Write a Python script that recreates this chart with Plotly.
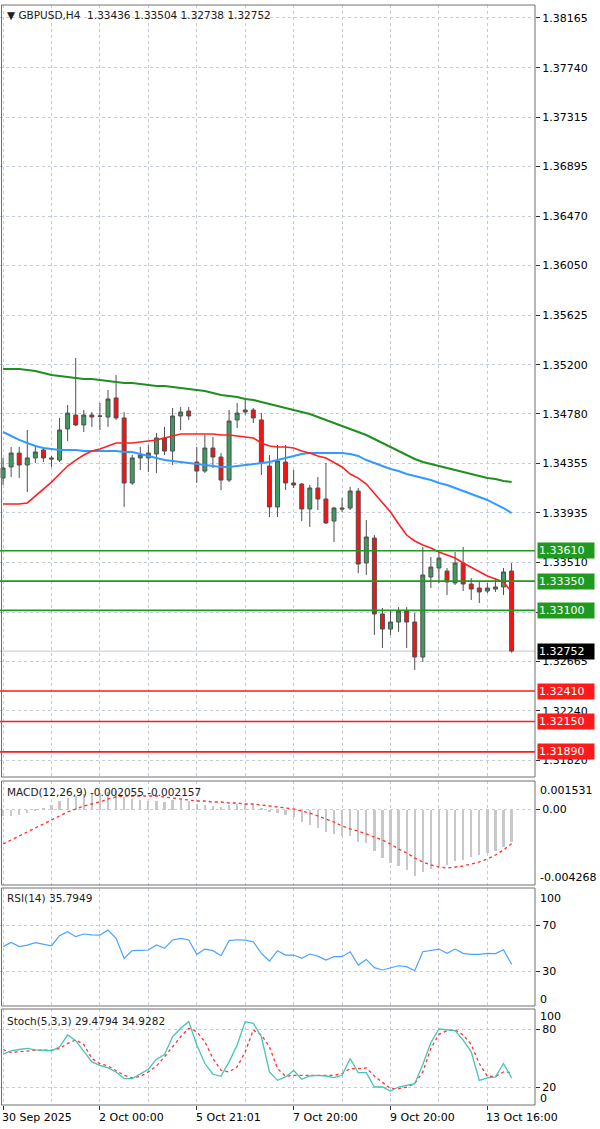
import plotly.graph_objects as go

# ---------------- data ----------------
open_ = [1.34231, 1.34326, 1.34445, 1.34343, 1.34403, 1.34471, 1.34403, 1.34385, 1.34651, 1.34770,
         1.34685, 1.34770, 1.34762, 1.34753, 1.34916, 1.34745, 1.34189, 1.34403, 1.34403, 1.34437,
         1.34574, 1.34462, 1.34762, 1.34804, 1.34368, 1.34291, 1.34488, 1.34411, 1.34214, 1.34728,
         1.34796, 1.34813, 1.34728, 1.34334, 1.33984, 1.34368, 1.34189, 1.34180, 1.33967, 1.34146,
         1.34052, 1.33864, 1.33975, 1.33975, 1.34120, 1.33505, 1.33718, 1.33069, 1.32940, 1.33000,
         1.33094, 1.33000, 1.32701, 1.33385, 1.33462, 1.33436, 1.33334, 1.33505, 1.33325, 1.33291,
         1.33265, 1.33282, 1.33300, 1.33436]
high = [1.34403, 1.34497, 1.34497, 1.34642, 1.34514, 1.34497, 1.34420, 1.34745, 1.34856, 1.35258,
        1.34813, 1.34796, 1.34873, 1.34984, 1.35112, 1.34796, 1.34428, 1.34497, 1.34514, 1.34616,
        1.34668, 1.34830, 1.34839, 1.34839, 1.34497, 1.34599, 1.34582, 1.34445, 1.34813, 1.34873,
        1.34899, 1.34830, 1.34787, 1.34428, 1.34514, 1.34514, 1.34300, 1.34189, 1.34172, 1.34240,
        1.34360, 1.33984, 1.34061, 1.34155, 1.34146, 1.33872, 1.33744, 1.33120, 1.33103, 1.33128,
        1.33128, 1.33077, 1.33642, 1.33556, 1.33599, 1.33462, 1.33599, 1.33642, 1.33376, 1.33342,
        1.33334, 1.33376, 1.33462, 1.33504]
low = [1.34172, 1.34240, 1.34231, 1.34112, 1.34360, 1.34368, 1.34326, 1.34368, 1.34548, 1.34676,
       1.34625, 1.34668, 1.34642, 1.34668, 1.34728, 1.33984, 1.34172, 1.34300, 1.34283, 1.34274,
       1.34428, 1.34343, 1.34642, 1.34728, 1.34189, 1.34274, 1.34317, 1.34129, 1.34197, 1.34659,
       1.34770, 1.34702, 1.34257, 1.33898, 1.33898, 1.34129, 1.34146, 1.33864, 1.33813, 1.33958,
       1.33838, 1.33684, 1.33941, 1.33958, 1.33419, 1.33402, 1.32889, 1.32778, 1.32889, 1.32915,
       1.32778, 1.32590, 1.32658, 1.33291, 1.33334, 1.33231, 1.33317, 1.33265, 1.33188, 1.33163,
       1.33248, 1.33257, 1.33231, 1.32738]
close = [1.34317, 1.34445, 1.34343, 1.34403, 1.34454, 1.34403, 1.34394, 1.34642, 1.34787, 1.34685,
         1.34770, 1.34753, 1.34760, 1.34907, 1.34745, 1.34189, 1.34403, 1.34428, 1.34445, 1.34574,
         1.34462, 1.34762, 1.34796, 1.34762, 1.34291, 1.34488, 1.34411, 1.34214, 1.34719, 1.34787,
         1.34813, 1.34745, 1.34360, 1.33984, 1.34377, 1.34189, 1.34172, 1.33967, 1.34146, 1.34052,
         1.33847, 1.33975, 1.33967, 1.34120, 1.33496, 1.33727, 1.33069, 1.32940, 1.33000, 1.33094,
         1.33000, 1.32701, 1.33402, 1.33470, 1.33547, 1.33342, 1.33505, 1.33325, 1.33282, 1.33257,
         1.33291, 1.33300, 1.33428, 1.32752]

ma_fast = [1.34009, 1.34009, 1.34009, 1.34018, 1.34078, 1.34137, 1.34197, 1.34266, 1.34334, 1.34385,
           1.34428, 1.34462, 1.34480, 1.34505, 1.34531, 1.34531, 1.34531, 1.34539, 1.34548, 1.34557,
           1.34574, 1.34591, 1.34608, 1.34608, 1.34608, 1.34608, 1.34608, 1.34599, 1.34599, 1.34591,
           1.34582, 1.34574, 1.34531, 1.34505, 1.34497, 1.34497, 1.34488, 1.34462, 1.34445, 1.34420,
           1.34403, 1.34368, 1.34326, 1.34266, 1.34231, 1.34180, 1.34103, 1.34026, 1.33941, 1.33838,
           1.33744, 1.33693, 1.33659, 1.33633, 1.33599, 1.33573, 1.33547, 1.33505, 1.33470, 1.33436,
           1.33394, 1.33368, 1.33342, 1.33257]
ma_mid = [1.34625, 1.34591, 1.34557, 1.34531, 1.34505, 1.34488, 1.34480, 1.34471, 1.34471, 1.34471,
          1.34462, 1.34462, 1.34462, 1.34462, 1.34462, 1.34454, 1.34454, 1.34437, 1.34420, 1.34403,
          1.34385, 1.34377, 1.34368, 1.34360, 1.34351, 1.34343, 1.34334, 1.34326, 1.34326, 1.34334,
          1.34343, 1.34351, 1.34360, 1.34368, 1.34385, 1.34403, 1.34420, 1.34437, 1.34445, 1.34445,
          1.34445, 1.34445, 1.34445, 1.34437, 1.34420, 1.34385, 1.34360, 1.34334, 1.34309, 1.34291,
          1.34266, 1.34249, 1.34231, 1.34214, 1.34189, 1.34172, 1.34146, 1.34120, 1.34095, 1.34069,
          1.34044, 1.34009, 1.33975, 1.33932]
ma_slow = [1.35164, 1.35164, 1.35164, 1.35155, 1.35147, 1.35130, 1.35113, 1.35104, 1.35096, 1.35087,
           1.35078, 1.35078, 1.35070, 1.35061, 1.35053, 1.35044, 1.35044, 1.35036, 1.35027, 1.35018,
           1.35018, 1.35010, 1.35001, 1.34993, 1.34984, 1.34976, 1.34959, 1.34942, 1.34933, 1.34924,
           1.34907, 1.34899, 1.34882, 1.34864, 1.34847, 1.34830, 1.34813, 1.34796, 1.34779, 1.34753,
           1.34728, 1.34702, 1.34676, 1.34651, 1.34625, 1.34599, 1.34565, 1.34531, 1.34497, 1.34462,
           1.34428, 1.34394, 1.34368, 1.34351, 1.34334, 1.34317, 1.34300, 1.34283, 1.34266, 1.34249,
           1.34231, 1.34223, 1.34206, 1.34197]

macd_main = [-0.000411, -0.000411, -0.000348, -0.000221, -0.000095, 0.000095, 0.000285, 0.000537, 0.000727, 0.000854,
             0.000950, 0.001000, 0.001050, 0.001100, 0.001150, 0.000790, 0.000664, 0.000601, 0.000537, 0.000537,
             0.000474, 0.000601, 0.000601, 0.000537, 0.000348, 0.000285, 0.000221, 0.000158, 0.000285, 0.000348,
             0.000348, 0.000285, 0.000095, -0.000158, -0.000221, -0.000348, -0.000474, -0.000790, -0.000980, -0.001170,
             -0.001423, -0.001549, -0.001676, -0.001676, -0.002055, -0.002118, -0.002624, -0.003067, -0.003383, -0.003572,
             -0.003825, -0.004205, -0.003952, -0.003762, -0.003572, -0.003509, -0.003256, -0.003193, -0.003003, -0.002877,
             -0.002751, -0.002624, -0.002371, -0.002055]
macd_signal = [-0.002181, -0.001929, -0.001676, -0.001423, -0.001170, -0.000917, -0.000664, -0.000411, -0.000158, 0.000032,
               0.000221, 0.000348, 0.000474, 0.000664, 0.000790, 0.000854, 0.000854, 0.000854, 0.000854, 0.000854,
               0.000790, 0.000727, 0.000664, 0.000601, 0.000537, 0.000537, 0.000474, 0.000474, 0.000411, 0.000411,
               0.000348, 0.000348, 0.000285, 0.000221, 0.000158, 0.000095, 0.000032, -0.000095, -0.000221, -0.000411,
               -0.000601, -0.000790, -0.001043, -0.001233, -0.001359, -0.001549, -0.001739, -0.001929, -0.002181, -0.002498,
               -0.002751, -0.003067, -0.003320, -0.003509, -0.003636, -0.003699, -0.003636, -0.003572, -0.003446, -0.003320,
               -0.003130, -0.002877, -0.002560, -0.002157]

rsi = [51.2, 54.9, 51.2, 52.5, 54.6, 53.2, 52.0, 60.7, 64.2, 59.9,
       62.2, 61.5, 61.3, 65.7, 58.4, 41.0, 47.7, 48.0, 48.3, 52.6,
       49.7, 57.0, 58.4, 57.0, 44.5, 49.1, 47.7, 43.3, 56.4, 57.2,
       56.8, 55.5, 45.4, 38.7, 47.7, 43.9, 43.9, 41.0, 44.8, 43.0,
       39.6, 42.5, 42.5, 46.8, 35.2, 40.1, 32.9, 30.9, 32.9, 34.6,
       33.8, 30.3, 46.8, 47.7, 49.1, 45.4, 49.1, 45.4, 44.5, 44.5,
       45.4, 45.2, 48.5, 35.79]

stoch_k = [54.0, 57.5, 58.8, 59.9, 58.5, 57.8, 57.5, 61.6, 73.8, 67.9,
           57.5, 46.0, 42.5, 39.8, 35.6, 28.7, 28.7, 33.9, 38.4, 48.8,
           53.6, 72.0, 80.7, 87.6, 63.4, 44.3, 33.2, 31.1, 46.0, 63.4,
           87.6, 85.9, 72.0, 35.6, 26.9, 30.4, 37.3, 28.0, 31.4, 32.1,
           31.4, 29.7, 32.1, 49.5, 34.9, 34.9, 20.0, 20.0, 15.8, 20.0,
           21.7, 23.5, 43.2, 65.8, 80.0, 79.0, 78.3, 68.6, 56.4, 26.9,
           29.4, 30.4, 44.3, 29.48]
stoch_d = [58.8, 55.7, 56.4, 57.5, 58.1, 58.1, 58.1, 59.9, 65.1, 68.6,
           64.0, 49.5, 44.3, 41.8, 37.3, 32.1, 29.4, 31.1, 35.6, 41.8,
           51.2, 61.6, 72.0, 80.7, 77.2, 66.8, 49.5, 37.3, 35.6, 40.8,
           56.4, 79.0, 73.8, 61.6, 39.1, 31.1, 32.1, 32.1, 32.1, 31.8,
           31.4, 32.1, 33.9, 39.1, 39.1, 39.8, 31.4, 24.5, 18.3, 18.3,
           20.0, 23.5, 35.6, 59.9, 74.5, 78.3, 79.0, 73.8, 64.0, 44.3,
           31.1, 31.1, 35.6, 34.93]

price_ticks = [1.38165, 1.37740, 1.37315, 1.36895, 1.36470, 1.36050, 1.35625, 1.35200,
               1.34780, 1.34355, 1.33935, 1.33510, 1.33085, 1.32665, 1.32240, 1.31820]
price_ticktext = ["1.38165", "1.37740", "1.37315", "1.36895", "1.36470", "1.36050", "1.35625", "1.35200",
                  "1.34780", "1.34355", "1.33935", "1.33510", "", "1.32665", "1.32240", "1.31820"]

resistance_levels = [1.33610, 1.33350, 1.33100]
support_levels = [1.32410, 1.32150, 1.31890]
bid_price = 1.32752

time_label_idx = [0, 12, 24, 36, 48, 60]
time_labels = ["30 Sep 2025", "2 Oct 00:00", "5 Oct 21:01", "7 Oct 20:00", "9 Oct 20:00", "13 Oct 16:00"]
minor_grid_idx = [6, 18, 30, 42, 54]

header_text = "GBPUSD,H4  1.33436 1.33504 1.32738 1.32752"
macd_text = "MACD(12,26,9) -0.002055 -0.002157"
rsi_text = "RSI(14) 35.7949"
stoch_text = "Stoch(5,3,3) 29.4794 34.9282"

# ---------------- layout helpers ----------------
W, H = 600, 1129
PLOT_R = 535 / W


def py(px):
    return 1 - px / H


FONT = "DejaVu Sans"
GRID = "#c3cbdc"
idx = list(range(len(close)))

fig = go.Figure()

fig.add_trace(go.Candlestick(
    x=idx, open=open_, high=high, low=low, close=close,
    increasing=dict(fillcolor="#3d9c60", line=dict(color="#505050", width=1)),
    decreasing=dict(fillcolor="#ff1010", line=dict(color="#505050", width=1)),
    whiskerwidth=0, xaxis="x", yaxis="y", hoverinfo="skip", showlegend=False))

fig.add_trace(go.Scatter(x=idx, y=ma_slow, mode="lines", line=dict(color="#1f8f1f", width=2),
                         xaxis="x", yaxis="y", showlegend=False, hoverinfo="skip"))
fig.add_trace(go.Scatter(x=idx, y=ma_mid, mode="lines", line=dict(color="#3399ff", width=2),
                         xaxis="x", yaxis="y", showlegend=False, hoverinfo="skip"))
fig.add_trace(go.Scatter(x=idx, y=ma_fast, mode="lines", line=dict(color="#ff2020", width=1.6),
                         xaxis="x", yaxis="y", showlegend=False, hoverinfo="skip"))

# MACD
fig.add_trace(go.Bar(x=idx, y=macd_main, width=0.28, marker=dict(color="#c8c8c8", line=dict(width=0)),
                     xaxis="x2", yaxis="y2", showlegend=False, hoverinfo="skip"))
fig.add_trace(go.Scatter(x=idx, y=macd_signal, mode="lines", line=dict(color="#ff3030", width=1.3, dash="dot"),
                         xaxis="x2", yaxis="y2", showlegend=False, hoverinfo="skip"))
# RSI
fig.add_trace(go.Scatter(x=idx, y=rsi, mode="lines", line=dict(color="#4aa3ff", width=1.2),
                         xaxis="x3", yaxis="y3", showlegend=False, hoverinfo="skip"))
# Stoch
fig.add_trace(go.Scatter(x=idx, y=stoch_d, mode="lines", line=dict(color="#ff3030", width=1.3, dash="dot"),
                         xaxis="x4", yaxis="y4", showlegend=False, hoverinfo="skip"))
fig.add_trace(go.Scatter(x=idx, y=stoch_k, mode="lines", line=dict(color="#45c4b4", width=1.3),
                         xaxis="x4", yaxis="y4", showlegend=False, hoverinfo="skip"))

panels = {
    "main": (5, 777),
    "macd": (781, 885),
    "rsi": (888, 1006),
    "stoch": (1009, 1105),
}

xrange = [-0.38, 65.9]
xcommon = dict(range=xrange, domain=[0, PLOT_R], showticklabels=False, zeroline=False, showline=False,
               tickvals=time_label_idx, showgrid=True, gridcolor=GRID, griddash="dot", gridwidth=1,
               minor=dict(tickvals=minor_grid_idx, showgrid=True, gridcolor=GRID, griddash="dot", gridwidth=1),
               fixedrange=True, automargin=False)

ycommon = dict(side="right", showgrid=True, gridcolor=GRID, griddash="dot", gridwidth=1,
               zeroline=False, showline=False, ticks="outside", ticklen=4, tickcolor="#303030",
               tickfont=dict(family=FONT, size=11, color="#000000"), fixedrange=True, automargin=False)

fig.update_layout(
    width=W, height=H, margin=dict(l=0, r=0, t=0, b=0, pad=0, autoexpand=False),
    paper_bgcolor="white", plot_bgcolor="white", showlegend=False, bargap=0,
    xaxis=dict(xcommon, anchor="y", rangeslider=dict(visible=False), ticks=""),
    xaxis2=dict(xcommon, anchor="y2", matches="x", ticks=""),
    xaxis3=dict(xcommon, anchor="y3", matches="x", ticks=""),
    xaxis4=dict(xcommon, anchor="y4", matches="x", ticks="outside", ticklen=4, tickcolor="#303030"),
    yaxis=dict(ycommon, anchor="x", domain=[py(panels["main"][1]), py(panels["main"][0])],
               range=[1.31675, 1.38276], tickvals=price_ticks, ticktext=price_ticktext),
    yaxis2=dict(ycommon, anchor="x2", domain=[py(panels["macd"][1]), py(panels["macd"][0])],
                range=[-0.004774, 0.001802], tickvals=[0], ticktext=["0.00"]),
    yaxis3=dict(ycommon, anchor="x3", domain=[py(panels["rsi"][1]), py(panels["rsi"][0])],
                range=[-0.4, 102.2], tickvals=[70, 30], ticktext=["70", "30"]),
    yaxis4=dict(ycommon, anchor="x4", domain=[py(panels["stoch"][1]), py(panels["stoch"][0])],
                range=[1.4, 100.7], tickvals=[80, 20], ticktext=["80", "20"]),
)

shapes = []
for lv in resistance_levels:
    shapes.append(dict(type="line", xref="paper", yref="y", x0=0, x1=PLOT_R, y0=lv, y1=lv,
                       line=dict(color="#1f9a1f", width=1.6), layer="above"))
for lv in support_levels:
    shapes.append(dict(type="line", xref="paper", yref="y", x0=0, x1=PLOT_R, y0=lv, y1=lv,
                       line=dict(color="#ff1a1a", width=1.6), layer="above"))
shapes.append(dict(type="line", xref="paper", yref="y", x0=0, x1=PLOT_R, y0=bid_price, y1=bid_price,
                   line=dict(color="#c9d2e6", width=1.2), layer="below"))
for name, (t, b) in panels.items():
    shapes.append(dict(type="rect", xref="paper", yref="paper", x0=1.5 / W, x1=PLOT_R,
                       y0=py(b), y1=py(t), line=dict(color="#707070", width=1), layer="above"))

annotations = []
lab_font = dict(family=FONT, size=11, color="white")
for lv in resistance_levels:
    annotations.append(dict(xref="paper", yref="y", x=537 / W, y=lv, xanchor="left", yanchor="middle",
                            text=f"{lv:.5f}", showarrow=False, bgcolor="#1f9a1f", font=lab_font,
                            width=54, align="left", borderpad=1))
for lv in support_levels:
    annotations.append(dict(xref="paper", yref="y", x=537 / W, y=lv, xanchor="left", yanchor="middle",
                            text=f"{lv:.5f}", showarrow=False, bgcolor="#ff1a1a", font=lab_font,
                            width=54, align="left", borderpad=1))
annotations.append(dict(xref="paper", yref="y", x=537 / W, y=bid_price, xanchor="left", yanchor="middle",
                        text=f"{bid_price:.5f}", showarrow=False, bgcolor="#000000", font=lab_font,
                        width=54, align="left", borderpad=1))

txt_font = dict(family=FONT, size=10.5, color="#202020")
annotations.append(dict(xref="paper", yref="paper", x=5 / W, y=py(15), xanchor="left", yanchor="middle",
                        text="▼ " + header_text, showarrow=False, font=txt_font))
annotations.append(dict(xref="paper", yref="paper", x=5 / W, y=py(792), xanchor="left", yanchor="middle",
                        text=macd_text, showarrow=False, font=txt_font))
annotations.append(dict(xref="paper", yref="paper", x=5 / W, y=py(898), xanchor="left", yanchor="middle",
                        text=rsi_text, showarrow=False, font=txt_font))
annotations.append(dict(xref="paper", yref="paper", x=5 / W, y=py(1021), xanchor="left", yanchor="middle",
                        text=stoch_text, showarrow=False, font=txt_font))

axis_font = dict(family=FONT, size=11, color="#000000")
side_labels = [("0.001531", 790), ("-0.004268", 877), ("100", 898), ("0", 999), ("100", 1016), ("0", 1098)]
for text, ypx in side_labels:
    annotations.append(dict(xref="paper", yref="paper", x=538 / W, y=py(ypx), xanchor="left", yanchor="middle",
                            text=text, showarrow=False, font=axis_font))

for i, lab in zip(time_label_idx, time_labels):
    annotations.append(dict(xref="x4", yref="paper", x=i, y=py(1117), xanchor="left", yanchor="middle",
                            text=lab, showarrow=False, font=axis_font, xshift=-3))

fig.update_layout(shapes=shapes, annotations=annotations)

fig.write_html("out.html", config={"displayModeBar": False},
               post_script="document.body.style.margin='0px';document.body.style.padding='0px';")
